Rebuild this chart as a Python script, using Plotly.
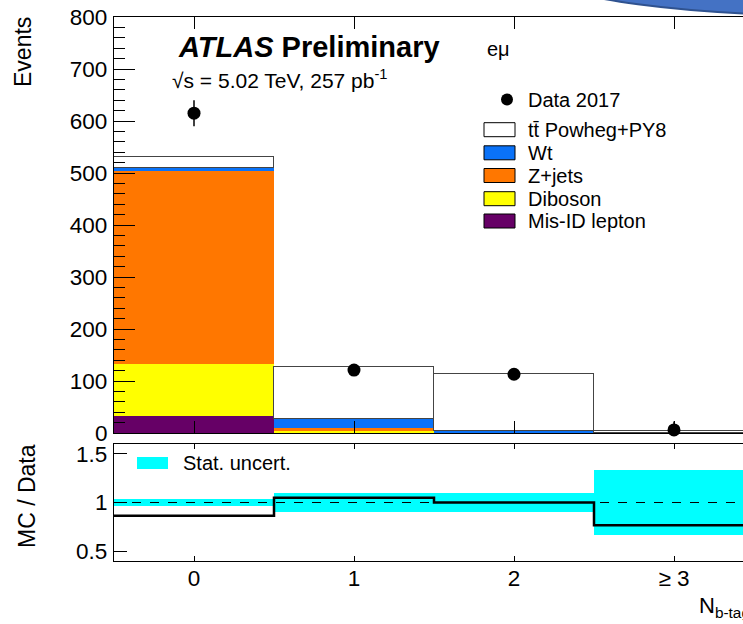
import plotly.graph_objects as go

# ---- data -------------------------------------------------------------
bins = [0, 1, 2, 3]
bin_labels = ["0", "1", "2", "\u2265 3"]

data_2017 = [615, 121, 113, 6]
data_err_up = [25, 11, 11, 16]
data_err_dn = [25, 11, 11, 6]

misid = [33, 0.5, 0.2, 0.05]
diboson = [100, 2.5, 0.3, 0.05]
zjets = [371, 7, 0.5, 0.1]
wt = [5, 16, 3, 0.4]
ttbar = [22, 101, 109, 4.0]

stat_unc = [0.035, 0.095, 0.095, 0.34]

# ---- styling ----------------------------------------------------------
W, H = 743, 624
FONT = "Liberation Sans, Arial, Helvetica, sans-serif"
C_MISID = "#660066"
C_DIB = "#ffff00"
C_ZJ = "#ff7700"
C_WT = "#0a72f8"
C_TT = "#ffffff"
C_BAND = "#00ffff"


def px(x):
    return x / W


def py(y):
    return 1 - y / H


mc_total = [a + b + c + d + e for a, b, c, d, e in zip(misid, diboson, zjets, wt, ttbar)]
ratio = [m / d for m, d in zip(mc_total, data_2017)]

fig = go.Figure()

# stacked MC histogram
for vals, col, name in [
    (misid, C_MISID, "Mis-ID lepton"),
    (diboson, C_DIB, "Diboson"),
    (zjets, C_ZJ, "Z+jets"),
    (wt, C_WT, "Wt"),
]:
    fig.add_trace(go.Bar(x=bins, y=vals, width=1, marker=dict(color=col, line=dict(width=0)),
                         name=name, xaxis="x", yaxis="y", showlegend=False))
fig.add_trace(go.Bar(x=bins, y=ttbar, width=1,
                     marker=dict(color=C_TT, line=dict(color="#444444", width=1.3)),
                     name="ttbar", xaxis="x", yaxis="y", showlegend=False))

# data points
fig.add_trace(go.Scatter(
    x=bins, y=data_2017, mode="markers", xaxis="x", yaxis="y",
    marker=dict(color="black", size=13),
    error_y=dict(type="data", array=data_err_up, arrayminus=data_err_dn,
                 color="black", thickness=1.5, width=0),
    cliponaxis=False, showlegend=False))

# ratio panel: stat band and MC/Data step line
fig.add_trace(go.Bar(x=bins, y=[2 * u for u in stat_unc], base=[1 - u for u in stat_unc],
                     width=1, marker=dict(color=C_BAND, line=dict(width=0)),
                     xaxis="x2", yaxis="y2", showlegend=False))
edges = [b - 0.5 for b in bins] + [bins[-1] + 0.5]
fig.add_trace(go.Scatter(x=edges, y=ratio + [ratio[-1]], mode="lines",
                         line=dict(color="black", width=2.5, shape="hv"),
                         xaxis="x2", yaxis="y2", showlegend=False, cliponaxis=True))

# ---- axes -------------------------------------------------------------
x_dom = [px(114), 1]
up_dom = [py(433), py(17)]
lo_dom = [py(561), py(444)]
xr = [-0.5, -0.5 + (W - 114) / 160.0]

axis_common = dict(showline=True, linecolor="black", linewidth=1.2, ticks="inside",
                   tickcolor="black", tickwidth=1.2, showgrid=False, zeroline=False,
                   automargin=False,
                   tickfont=dict(family=FONT, size=22.5, color="black"))
side_common = dict(showline=False, ticks="inside", tickcolor="black", tickwidth=1.2,
                   showticklabels=False, showgrid=False, zeroline=False, automargin=False)

fig.update_layout(
    width=W, height=H,
    margin=dict(l=0, r=0, t=0, b=0, autoexpand=False),
    paper_bgcolor="white", plot_bgcolor="white",
    barmode="stack", bargap=0,
    showlegend=False,
    font=dict(family=FONT, color="black"),
    xaxis=dict(domain=x_dom, range=xr, anchor="y", tickvals=bins, ticklen=12,
               mirror="ticks", showticklabels=False, **axis_common),
    yaxis=dict(domain=up_dom, range=[0, 800], anchor="x", dtick=100, ticklen=21,
               minor=dict(dtick=20, ticklen=11, ticks="inside", tickcolor="black", tickwidth=1),
               ticklabelstandoff=1, **axis_common),
    yaxis3=dict(range=[0, 800], overlaying="y", side="right", anchor="x",
                ticklen=12, dtick=100,
                minor=dict(dtick=20, ticklen=2, ticks="inside", tickcolor="black"),
                **side_common),
    xaxis2=dict(domain=x_dom, range=xr, anchor="y2", tickvals=bins, ticktext=bin_labels,
                ticklen=5, mirror="ticks", ticklabelstandoff=-3, **axis_common),
    yaxis2=dict(domain=lo_dom, range=[0.397, 1.603], anchor="x2", tickvals=[0.5, 1, 1.5],
                ticktext=["0.5", "1", "1.5"], ticklen=13, ticklabelstandoff=1, **axis_common),
    yaxis4=dict(range=[0.397, 1.603], overlaying="y2", side="right", anchor="x2",
                ticklen=5, tickvals=[0.5, 1, 1.5], **side_common),
)

shapes = []
# dashed unity line in ratio panel
shapes.append(dict(type="line", xref="x2 domain", yref="y2", x0=0, x1=1, y0=1, y1=1,
                   line=dict(color="black", width=1, dash="dash"), layer="above"))

# legend swatches (upper panel)
leg_x0, leg_x1 = px(484), px(515)
rows = [("tt\u0304 Powheg+PY8", C_TT, 129.7), ("Wt", C_WT, 152.8), ("Z+jets", C_ZJ, 175.5),
        ("Diboson", C_DIB, 198.7), ("Mis-ID lepton", C_MISID, 221.0)]
for _, col, yc in rows:
    shapes.append(dict(type="rect", xref="paper", yref="paper", x0=leg_x0, x1=leg_x1,
                       y0=py(yc + 7), y1=py(yc - 7), fillcolor=col,
                       line=dict(color="black", width=1)))
shapes.append(dict(type="circle", xref="paper", yref="paper", x0=px(501), x1=px(513),
                   y0=py(105.5), y1=py(93.5), fillcolor="black", line=dict(color="black", width=0)))
# stat. uncert. swatch (ratio panel)
shapes.append(dict(type="rect", xref="paper", yref="paper", x0=px(137), x1=px(168),
                   y0=py(469), y1=py(457), fillcolor=C_BAND, line=dict(width=0)))
# blue ellipse in the top-right corner
shapes.append(dict(type="circle", xref="paper", yref="paper", x0=px(550), x1=px(1150),
                   y0=py(16), y1=py(-64), fillcolor="#4472c4",
                   line=dict(color="#2f528f", width=2), layer="above"))
fig.update_layout(shapes=shapes)

ann = []


def text(x, y, s, size, xanchor="left", yanchor="middle", angle=0):
    ann.append(dict(x=px(x), y=py(y), xref="paper", yref="paper", text=s, showarrow=False,
                    xanchor=xanchor, yanchor=yanchor, textangle=angle,
                    font=dict(family=FONT, size=size, color="black")))


text(176, 47, "<b><i>ATLAS</i> Preliminary</b>", 29)
text(170, 79, "\u221As = 5.02 TeV, 257 pb<sup>-1</sup>", 21)
text(485, 49, "e\u03bc", 20)
text(526, 100, "Data 2017", 20)
for label, _, yc in rows:
    text(526, yc, label, 20)
text(181, 463, "Stat. uncert.", 20)
text(23, 52, "Events", 23, xanchor="center", angle=-90)
text(27, 496, "MC / Data", 23, xanchor="center", angle=-90)
text(697, 607, "N<sub>b-tag</sub>", 22)
fig.update_layout(annotations=ann)

fig.write_html("out.html")
